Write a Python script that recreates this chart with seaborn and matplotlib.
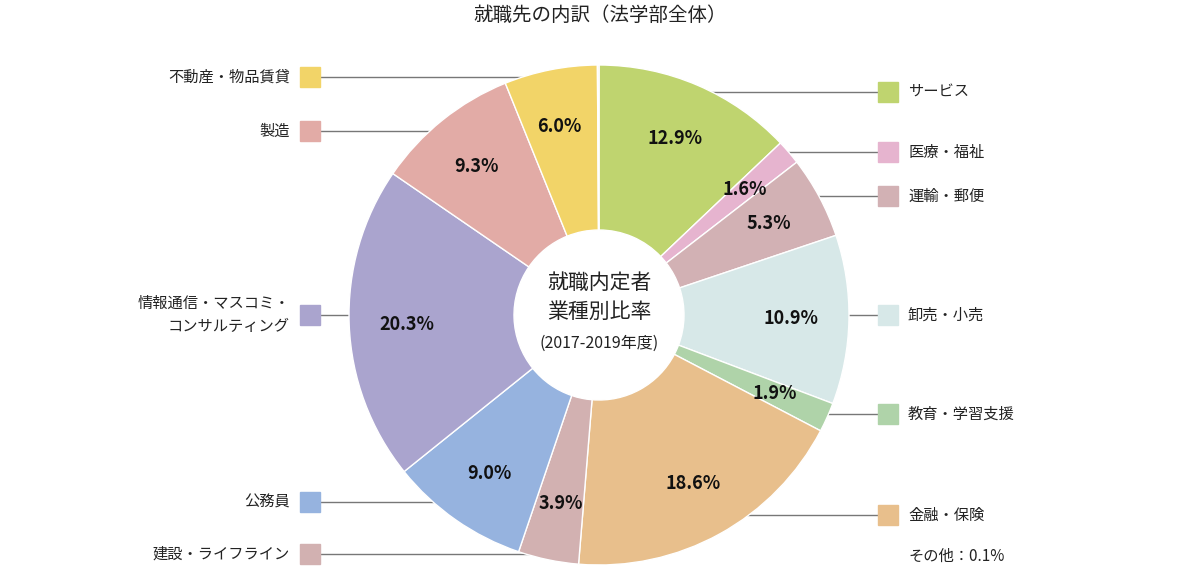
import matplotlib
matplotlib.use("Agg")
import matplotlib.pyplot as plt
import seaborn as sns
import numpy as np
from matplotlib.patches import Rectangle

sns.set_theme(style="white")
plt.rcParams["font.family"] = "Noto Sans CJK JP"

categories = ["サービス", "医療・福祉", "運輸・郵便", "卸売・小売", "教育・学習支援", "金融・保険",
              "建設・ライフライン", "公務員", "情報通信・マスコミ・\nコンサルティング", "製造", "不動産・物品賃貸", "その他"]
values = [12.9, 1.6, 5.3, 10.9, 1.9, 18.6, 3.9, 9.0, 20.3, 9.3, 6.0, 0.1]
colors = ["#bfd46f", "#e6b4cf", "#d2b1b4", "#d7e8e8", "#afd3a9", "#e8bf8c",
          "#d2b1b1", "#96b3df", "#aaa4ce", "#e2aba6", "#f2d468", "#ece7d8"]

W, H = 1200, 568
fig = plt.figure(figsize=(12, 5.68), dpi=100)
ax = fig.add_axes([0, 0, 1, 1])
ax.set_xlim(0, W); ax.set_ylim(0, H); ax.axis("off")

cx, cy, R = 599, H - 315, 250
wedges, _ = ax.pie(values, colors=colors, startangle=90, counterclock=False,
                   center=(cx, cy), radius=R,
                   wedgeprops=dict(width=165, edgecolor="white", linewidth=1))
ax.set_xlim(0, W); ax.set_ylim(0, H); ax.set_aspect("equal")

# percentage labels
cum = 90.0
for v in values:
    mid = cum - v * 360 / 100 / 2
    cum -= v * 360 / 100
    if v < 1:
        continue
    r = 0.77 * R
    x = cx + r * np.cos(np.radians(mid)); y = cy + r * np.sin(np.radians(mid))
    ax.text(x, y, f"{v:.1f}%", ha="center", va="center", fontsize=13, fontweight="bold", color="#111")

# legend entries (pixel y, side)
legend_pos = {"サービス": (92, "r"), "医療・福祉": (152, "r"), "運輸・郵便": (196, "r"),
              "卸売・小売": (315, "r"), "教育・学習支援": (414, "r"), "金融・保険": (515, "r"),
              "建設・ライフライン": (554, "l"), "公務員": (502, "l"),
              "情報通信・マスコミ・\nコンサルティング": (315, "l"), "製造": (131, "l"),
              "不動産・物品賃貸": (77, "l")}
for cat, col in zip(categories, colors):
    if cat not in legend_pos:
        continue
    yp, side = legend_pos[cat]
    y = H - yp
    dy = y - cy
    half = np.sqrt(max(R**2 - dy**2, 0))
    if side == "r":
        ax.plot([cx + half - 12, 878], [y, y], color="#777", lw=1, zorder=0.5)
        ax.add_patch(Rectangle((878, y - 10), 20, 20, color=col))
        ax.text(908, y, cat, ha="left", va="center", fontsize=11, color="#222")
    else:
        ax.plot([320, cx - half + 12], [y, y], color="#777", lw=1, zorder=0.5)
        ax.add_patch(Rectangle((300, y - 10), 20, 20, color=col))
        ax.text(290, y, cat, ha="right", va="center", fontsize=11, color="#222", linespacing=1.5)

ax.text(908, H - 556, "その他：0.1%", ha="left", va="center", fontsize=11, color="#222")

ax.text(cx, H - 283, "就職内定者", ha="center", va="center", fontsize=15, color="#222")
ax.text(cx, H - 312, "業種別比率", ha="center", va="center", fontsize=15, color="#222")
ax.text(cx, H - 343, "(2017-2019年度)", ha="center", va="center", fontsize=11.5, color="#222")
ax.text(W / 2, H - 15, "就職先の内訳（法学部全体）", ha="center", va="center", fontsize=14, color="#222")

fig.savefig("out.png", dpi=100)
